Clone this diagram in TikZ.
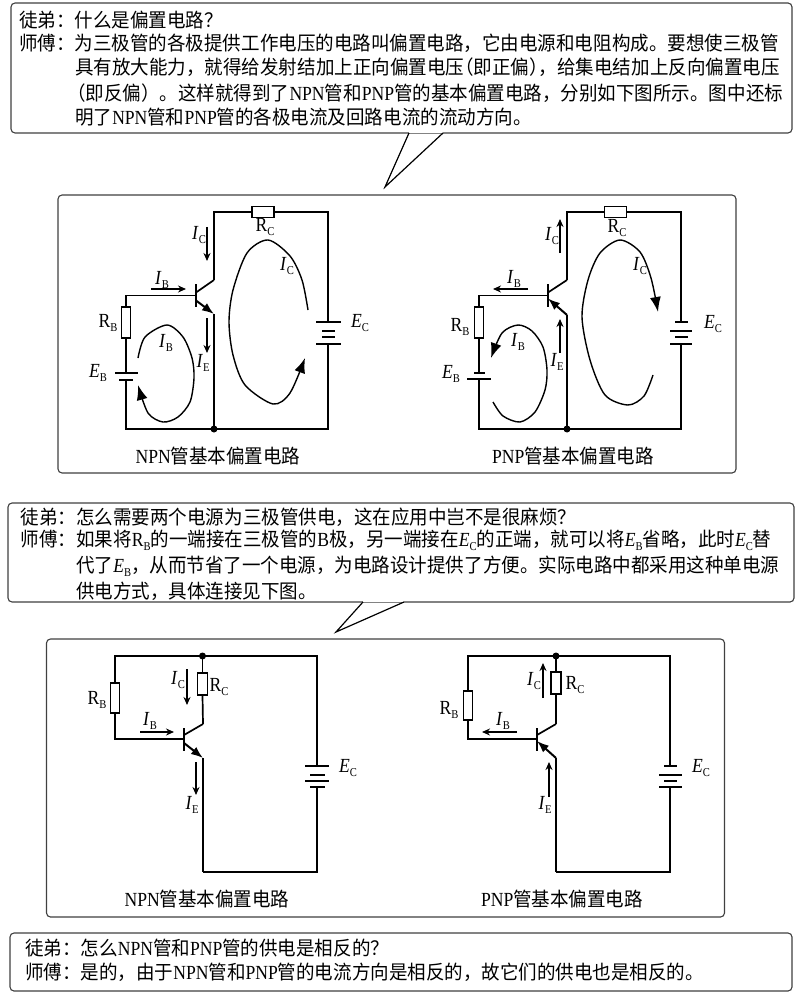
\documentclass[tikz,border=0pt]{standalone}
\usepackage{fontspec}
\usepackage{tikz}
\usetikzlibrary{arrows.meta,positioning,calc}
\setmainfont[FakeStretch=0.88]{Liberation Serif}
\newfontfamily\cjk[FakeStretch=0.95]{Noto Sans CJK SC}
\newcommand{\lat}[1]{{\rmfamily\fontsize{20}{22}\selectfont #1}}
\newcommand{\subbed}[2]{{\rmfamily\fontsize{20}{22}\selectfont #1\raisebox{-4pt}{\fontsize{12}{12}\selectfont #2}}}
\tikzset{%
  talk line/.style={%
    anchor=west,
    inner sep=0pt,
    font=\cjk\fontsize{19.5}{22}\selectfont
  }
}
\tikzset{%
  caption line/.style={%
    inner sep=0pt,
    font=\cjk\fontsize{19.5}{22}\selectfont
  }
}
\tikzset{%
  part label/.style={%
    inner sep=0pt
  }
}
\tikzset{%
  frame box/.style={%
    draw=black!75,
    line width=1.1pt,
    rounded corners=4pt,
    fill=white
  }
}
\tikzset{%
  wire/.style={%
    line width=1.7pt
  }
}
\tikzset{%
  resistor/.style={%
    draw,
    line width=1.5pt,
    fill=white,
    inner sep=0pt
  }
}
\tikzset{%
  plate/.style={%
    fill=black,
    inner sep=0pt,
    minimum height=2pt
  }
}
\tikzset{%
  bar/.style={%
    fill=black,
    inner sep=0pt,
    minimum width=2pt,
    minimum height=23pt
  }
}
\tikzset{%
  dot/.style={%
    circle,
    fill=black,
    inner sep=0pt,
    minimum size=7pt
  }
}
\tikzset{%
  current/.style={%
    line width=1.4pt,
    -{Stealth[length=8pt,width=7pt]}
  }
}
\tikzset{%
  loop line/.style={%
    line width=1.4pt,
    -{Latex[length=15pt,width=11pt]}
  }
}
\tikzset{%
  emitter/.style={%
    line width=2pt,
    -{Latex[length=12pt,width=9pt]}
  }
}
\begin{document}
\begin{tikzpicture}[x=1pt,y=-1pt]
  \useasboundingbox (0,0) rectangle (803,1000);
  % speech boxes
  \node [frame box,minimum width=781pt,minimum height=130pt] (talka) at (401.5,68) {};
  \coordinate (talkatip) at (385,187);
  \coordinate (talkal) at (409,133);
  \coordinate (talkar) at (443,133);
  \fill [white] (talkal) rectangle ($(talkar)+(0,-2)$);
  \draw [line width=1.2pt] (talkal) -- (talkatip) -- (talkar);
  \node [talk line] (qa) at (19,20) {徒弟：什么是偏置电路？};
  \node [talk line] (aa) at (19,43) {师傅：为三极管的各极提供工作电压的电路叫偏置电路，它由电源和电阻构成。要想使三极管};
  \node [talk line] (ab) at (75,67.5) {具有放大能力，就得给发射结加上正向偏置电压\kern-9pt（即正偏）\kern-9pt，给集电结加上反向偏置电压};
  \node [talk line] (ac) at (67,93) {（即反偏）。这样就得到了\lat{NPN}管和\lat{PNP}管的基本偏置电路，分别如下图所示。图中还标};
  \node [talk line] (ad) at (75,117) {明了\lat{NPN}管和\lat{PNP}管的各极电流及回路电流的流动方向。};
  \node [frame box,minimum width=786pt,minimum height=99pt] (talkb) at (401,552.5) {};
  \coordinate (talkbtip) at (336,632);
  \coordinate (talkbl) at (363,602);
  \coordinate (talkbr) at (404,602);
  \fill [white] (talkbl) rectangle ($(talkbr)+(0,-2)$);
  \draw [line width=1.2pt] (talkbl) -- (talkbtip) -- (talkbr);
  \node [talk line] (qb) at (20.5,517) {徒弟：怎么需要两个电源为三极管供电，这在应用中岂不是很麻烦？};
  \node [talk line] (ba) at (20.5,540) {师傅：如果将\subbed{R}{B}的一端接在三极管的\lat{B}极，另一端接在\subbed{\textit{E}}{C}的正端，就可以将\subbed{\textit{E}}{B}省略，此时\subbed{\textit{E}}{C}替};
  \node [talk line] (bb) at (76,566) {代了\subbed{\textit{E}}{B}，从而节省了一个电源，为电路设计提供了方便。实际电路中都采用这种单电源};
  \node [talk line] (bc) at (76,591) {供电方式，具体连接见下图。};
  \node [frame box,minimum width=782pt,minimum height=58pt] (talkc) at (401,962) {};
  \node [talk line] (qc) at (25,948) {徒弟：怎么\lat{NPN}管和\lat{PNP}管的供电是相反的？};
  \node [talk line] (ca) at (25,972) {师傅：是的，由于\lat{NPN}管和\lat{PNP}管的电流方向是相反的，故它们的供电也是相反的。};
  \node [frame box,minimum width=678pt,minimum height=278pt] (framea) at (397,334) {};
  \node [frame box,minimum width=678pt,minimum height=278pt] (frameb) at (385.5,778) {};
  % NPN, two supplies
  \node [resistor,minimum width=22pt,minimum height=11pt] (rca) at (263,212) {};
  \node [resistor,minimum width=9pt,minimum height=31pt] (rba) at (126,322.5) {};
  \node [plate,minimum width=23pt] (eba) at (126,373) {};
  \node [plate,minimum width=14pt] (ebb) at (126,380) {};
  \node [plate,minimum width=25pt] (eca) at (328,322) {};
  \node [plate,minimum width=13pt] (ecb) at (328,331) {};
  \node [plate,minimum width=13pt] (ecc) at (328,337) {};
  \node [plate,minimum width=25pt] (ecd) at (328,344) {};
  \node [bar] (qbar) at (196,295.5) {};
  \node [dot] (gnda) at (214,429) {};
  \coordinate (qcol) at (214,280);
  \coordinate (qemi) at (214,314);
  \draw [wire] (rba.north) |- (qbar.center);
  \draw [wire] (rba.south) -- (eba.center);
  \draw [wire] (ebb.center) |- (gnda.center);
  \draw [wire] (gnda.center) -| (ecd.center);
  \draw [wire] (eca.center) |- (rca.east);
  \draw [wire] (rca.west) -| (qcol);
  \draw [wire] ($(qbar.center)+(0,-3)$) -- (qcol);
  \draw [wire] (qemi) -- (gnda.center);
  \draw [emitter] ($(qbar.center)+(0,5)$) -- (qemi);
  \draw [current] (207,227) -- (207,261);
  \draw [current] (151,289) -- (186,289);
  \draw [current] (207,318) -- (207,353);
  \draw [loop line] plot [smooth] coordinates {(308,310) (302,280) (290,256) (268,240) (247,253) (233,290) (229,322) (233,355) (245,385) (273,404) (290,393) (305,358)};
  \draw [loop line] plot [smooth] coordinates {(138,358) (145,337) (167,325) (183,337) (192,358) (194,378) (190,402) (178,417) (163,422) (148,413) (138,385)};
  \node [part label] (lica) at (199,235) {\subbed{\textit{I}}{C}};
  \node [part label] (lrca) at (265,227) {\subbed{R}{C}};
  \node [part label] (licb) at (287,266) {\subbed{\textit{I}}{C}};
  \node [part label] (liba) at (162,280) {\subbed{\textit{I}}{B}};
  \node [part label] (lrba) at (108,323) {\subbed{R}{B}};
  \node [part label] (libb) at (166,343) {\subbed{\textit{I}}{B}};
  \node [part label] (liea) at (203,363) {\subbed{\textit{I}}{E}};
  \node [part label] (leba) at (98,373) {\subbed{\textit{E}}{B}};
  \node [part label] (leca) at (360,323) {\subbed{\textit{E}}{C}};
  \node [caption line] (capa) at (218,456) {\lat{NPN}管基本偏置电路};
  % PNP, two supplies
  \node [resistor,minimum width=22pt,minimum height=11pt] (rcb) at (615.5,212) {};
  \node [resistor,minimum width=9pt,minimum height=31pt] (rbb) at (479,322.5) {};
  \node [plate,minimum width=11pt] (ebc) at (479,373) {};
  \node [plate,minimum width=24pt] (ebd) at (479,379) {};
  \node [plate,minimum width=13pt] (ece) at (681,322) {};
  \node [plate,minimum width=22pt] (ecf) at (681,331) {};
  \node [plate,minimum width=13pt] (ecg) at (681,337) {};
  \node [plate,minimum width=22pt] (ech) at (681,344) {};
  \node [bar] (rbar) at (548,295.5) {};
  \node [dot] (gndb) at (567,429) {};
  \coordinate (rcol) at (567,280);
  \coordinate (remi) at (567,315);
  \draw [wire] (rbb.north) |- (rbar.center);
  \draw [wire] (rbb.south) -- (ebc.center);
  \draw [wire] (ebd.center) |- (gndb.center);
  \draw [wire] (gndb.center) -| (ech.center);
  \draw [wire] (ece.center) |- (rcb.east);
  \draw [wire] (rcb.west) -| (rcol);
  \draw [wire] ($(rbar.center)+(0,-3)$) -- (rcol);
  \draw [wire] (remi) -- (gndb.center);
  \draw [emitter] (remi) -- ($(rbar.center)+(0,3)$);
  \draw [current] (560,253) -- (560,219);
  \draw [current] (528,289) -- (493,289);
  \draw [current] (560,353) -- (560,319);
  \draw [loop line] plot [smooth] coordinates {(653,375) (644,396) (628,405) (605,395) (590,360) (582,317) (588,280) (600,253) (620,240) (640,252) (651,278) (658,312)};
  \draw [loop line] plot [smooth] coordinates {(493,402) (503,416) (520,422) (535,412) (545,390) (547,370) (543,347) (532,331) (518,325) (502,333) (491,358)};
  \node [part label] (licc) at (552,236) {\subbed{\textit{I}}{C}};
  \node [part label] (lrcb) at (617,228) {\subbed{R}{C}};
  \node [part label] (licd) at (640,266) {\subbed{\textit{I}}{C}};
  \node [part label] (libc) at (514,279) {\subbed{\textit{I}}{B}};
  \node [part label] (lrbb) at (460,327) {\subbed{R}{B}};
  \node [part label] (libd) at (518,342) {\subbed{\textit{I}}{B}};
  \node [part label] (lieb) at (557,362) {\subbed{\textit{I}}{E}};
  \node [part label] (lebb) at (451,374) {\subbed{\textit{E}}{B}};
  \node [part label] (lecb) at (713,324) {\subbed{\textit{E}}{C}};
  \node [caption line] (capb) at (573,456) {\lat{PNP}管基本偏置电路};
  % NPN, one supply
  \node [resistor,minimum width=10pt,minimum height=22pt] (rcc) at (202.5,684) {};
  \node [resistor,minimum width=9pt,minimum height=30pt] (rbc) at (115,698) {};
  \node [plate,minimum width=24pt] (eci) at (317,766) {};
  \node [plate,minimum width=15pt] (ecj) at (317,775) {};
  \node [plate,minimum width=24pt] (eck) at (317,781) {};
  \node [plate,minimum width=15pt] (ecl) at (317,787) {};
  \node [bar] (sbar) at (184,739) {};
  \node [dot] (vcca) at (202.5,656) {};
  \coordinate (scol) at (203,724);
  \coordinate (semi) at (203,758);
  \coordinate (sbot) at (203,872);
  \draw [wire] (rbc.north) |- (vcca.center);
  \draw [wire] (vcca.center) -| (eci.center);
  \draw [wire] (vcca.center) -- (rcc.north);
  \draw [wire] (rcc.south) -- (scol);
  \draw [wire] (rbc.south) |- (sbar.center);
  \draw [wire] ($(sbar.center)+(0,-4)$) -- (scol);
  \draw [wire] (semi) -- (sbot);
  \draw [wire] (sbot) -| (ecl.center);
  \draw [emitter] ($(sbar.center)+(0,4)$) -- (semi);
  \draw [current] (187,669) -- (187,705);
  \draw [current] (140,732) -- (174,732);
  \draw [current] (196,762) -- (196,795);
  \node [part label] (lice) at (178,680) {\subbed{\textit{I}}{C}};
  \node [part label] (lrcc) at (219,687) {\subbed{R}{C}};
  \node [part label] (lrbc) at (97,700) {\subbed{R}{B}};
  \node [part label] (libe) at (150,721) {\subbed{\textit{I}}{B}};
  \node [part label] (liec) at (192,805) {\subbed{\textit{I}}{E}};
  \node [part label] (lecc) at (348,768) {\subbed{\textit{E}}{C}};
  \node [caption line] (capc) at (207,899) {\lat{NPN}管基本偏置电路};
  % PNP, one supply
  \node [resistor,minimum width=10pt,minimum height=22pt] (rcd) at (556,683) {};
  \node [resistor,minimum width=9pt,minimum height=29pt] (rbd) at (468,705.5) {};
  \node [plate,minimum width=13pt] (ecm) at (670,766) {};
  \node [plate,minimum width=23pt] (ecn) at (670,775) {};
  \node [plate,minimum width=13pt] (eco) at (670,781) {};
  \node [plate,minimum width=23pt] (ecp) at (670,787) {};
  \node [bar] (tbar) at (537,739) {};
  \node [dot] (vccb) at (556,656) {};
  \coordinate (tcol) at (556,724);
  \coordinate (temi) at (556,758);
  \coordinate (tbot) at (556,872);
  \draw [wire] (rbd.north) |- (vccb.center);
  \draw [wire] (vccb.center) -| (ecm.center);
  \draw [wire] (vccb.center) -- (rcd.north);
  \draw [wire] (rcd.south) -- (tcol);
  \draw [wire] (rbd.south) |- (tbar.center);
  \draw [wire] ($(tbar.center)+(0,-4)$) -- (tcol);
  \draw [wire] (temi) -- (tbot);
  \draw [wire] (tbot) -| (ecp.center);
  \draw [emitter] (temi) -- ($(tbar.center)+(0,2)$);
  \draw [current] (543,698) -- (543,663);
  \draw [current] (517,732) -- (482,732);
  \draw [current] (549,797) -- (549,762);
  \node [part label] (licf) at (534,681) {\subbed{\textit{I}}{C}};
  \node [part label] (lrcd) at (575,685) {\subbed{R}{C}};
  \node [part label] (lrbd) at (449,710) {\subbed{R}{B}};
  \node [part label] (libf) at (503,721) {\subbed{\textit{I}}{B}};
  \node [part label] (lied) at (545,805) {\subbed{\textit{I}}{E}};
  \node [part label] (lecd) at (701,768) {\subbed{\textit{E}}{C}};
  \node [caption line] (capd) at (562,899) {\lat{PNP}管基本偏置电路};
\end{tikzpicture}
\end{document}
